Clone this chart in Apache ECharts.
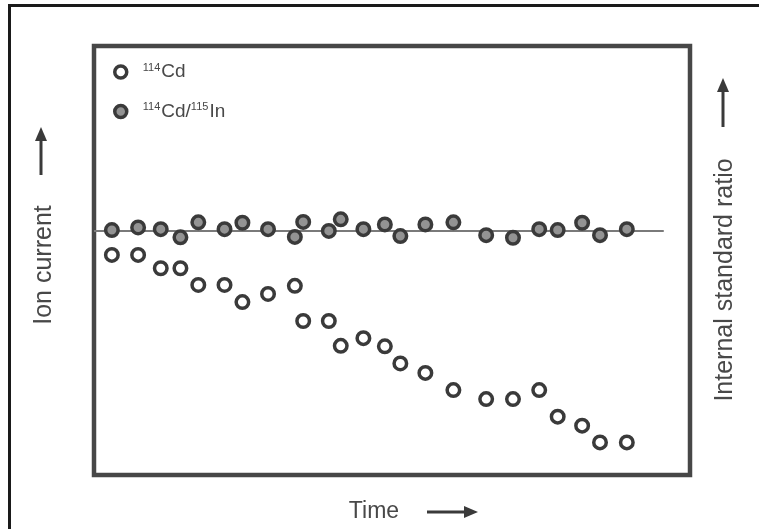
<!DOCTYPE html>
<html>
<head>
<meta charset="utf-8">
<script src="https://cdn.jsdelivr.net/npm/echarts@6/dist/echarts.min.js"></script>
<style>html,body{margin:0;padding:0;background:#fff}#c{width:759px;height:529px}</style>
</head>
<body>
<div id="c"></div>
<script>
// Time in arbitrary units (0..100 across the plot frame)
const times = [3.0, 7.4, 11.2, 14.5, 17.5, 21.9, 24.9, 29.2, 33.7, 35.1, 39.4, 41.4,
               45.2, 48.8, 51.4, 55.6, 60.3, 65.8, 70.3, 74.7, 77.8, 81.9, 84.9, 89.4];
// 114Cd ion current (arbitrary units, 0..100 of frame height)
const ionCurrent = [51.3, 51.3, 48.2, 48.2, 44.3, 44.3, 40.3, 42.2, 44.1, 35.9, 35.9, 30.1,
                    31.9, 30.0, 26.0, 23.8, 19.8, 17.7, 17.7, 19.8, 13.6, 11.5, 7.6, 7.6];
// 114Cd/115In internal standard ratio (same arbitrary scale)
const ratio = [57.1, 57.7, 57.3, 55.4, 58.9, 57.3, 58.8, 57.3, 55.5, 59.0, 56.9, 59.6,
               57.3, 58.4, 55.7, 58.4, 58.9, 55.9, 55.3, 57.3, 57.1, 58.8, 55.9, 57.3];
// Reference line for the ratio
const refLineX = [0, 95.6];
const refLineY = [56.9, 56.9];
const seriesNames = ['114Cd', '114Cd/115In'];

const FONT = "'Liberation Sans', Arial, sans-serif";
const TXT = '#484848';
const chart = echarts.init(document.getElementById('c'), null, {renderer: 'canvas'});

function arrowUp(x, yTip, yTail) {
  return [
    {type: 'line', shape: {x1: x, y1: yTail, x2: x, y2: yTip + 10}, style: {stroke: '#3a3a3a', lineWidth: 3}},
    {type: 'polygon', shape: {points: [[x, yTip], [x - 6, yTip + 14], [x + 6, yTip + 14]]}, style: {fill: '#3a3a3a'}}
  ];
}
function arrowRight(y, xTail, xTip) {
  return [
    {type: 'line', shape: {x1: xTail, y1: y, x2: xTip - 10, y2: y}, style: {stroke: '#3a3a3a', lineWidth: 3}},
    {type: 'polygon', shape: {points: [[xTip, y], [xTip - 14, y - 6], [xTip - 14, y + 6]]}, style: {fill: '#3a3a3a'}}
  ];
}

chart.setOption({
  animation: false,
  backgroundColor: '#fff',
  grid: {left: 94, right: 69, top: 46, bottom: 54, show: true, borderColor: '#474747', borderWidth: 4.5, backgroundColor: 'transparent'},
  xAxis: {type: 'value', min: 0, max: 100, show: false},
  yAxis: {type: 'value', min: 0, max: 100, show: false},
  legend: {
    data: seriesNames,
    orient: 'vertical',
    left: 108,
    top: 57,
    itemWidth: 12,
    itemHeight: 12,
    itemGap: 20,
    icon: 'circle',
    itemStyle: {borderWidth: 3.5, borderColor: '#3a3a3a'},
    textStyle: {
      padding: [0, 0, 0, 11],
      rich: {
        sup: {fontSize: 11, fontFamily: FONT, color: TXT, padding: [0, 1, 9, 0]},
        t: {fontSize: 19, fontFamily: FONT, color: TXT}
      }
    },
    formatter: function (name) {
      if (name === '114Cd') return '{sup|114}{t|Cd}';
      return '{sup|114}{t|Cd/}{sup|115}{t|In}';
    }
  },
  graphic: [
    {type: 'rect', shape: {x: 9.5, y: 5.5, width: 800, height: 600}, style: {fill: 'none', stroke: '#1a1a1a', lineWidth: 3}, silent: true},
    {type: 'text', x: 44, y: 265, rotation: Math.PI / 2,
      style: {text: 'Ion current', font: '25px ' + FONT, fill: TXT, align: 'center', verticalAlign: 'middle'}},
    {type: 'text', x: 725, y: 280, rotation: Math.PI / 2,
      style: {text: 'Internal standard ratio', font: '25px ' + FONT, fill: TXT, align: 'center', verticalAlign: 'middle'}},
    {type: 'text', x: 374, y: 512,
      style: {text: 'Time', font: '23px ' + FONT, fill: TXT, align: 'center', verticalAlign: 'middle'}},
    ...arrowUp(41, 127, 175),
    ...arrowUp(723, 78, 127),
    ...arrowRight(512, 427, 478)
  ],
  series: [
    {
      type: 'line', name: 'ref', data: refLineX.map((x, i) => [x, refLineY[i]]),
      symbol: 'none', lineStyle: {color: '#7a7a7a', width: 2}, z: 1, silent: true
    },
    {
      type: 'scatter', name: seriesNames[1], data: times.map((t, i) => [t, ratio[i]]),
      symbol: 'circle', symbolSize: 12.5,
      itemStyle: {color: '#939393', borderColor: '#3a3a3a', borderWidth: 3.5, opacity: 1}, z: 3
    },
    {
      type: 'scatter', name: seriesNames[0], data: times.map((t, i) => [t, ionCurrent[i]]),
      symbol: 'circle', symbolSize: 12.5,
      itemStyle: {color: '#ffffff', borderColor: '#3a3a3a', borderWidth: 3.5, opacity: 1}, z: 3
    }
  ]
});
</script>
</body>
</html>
